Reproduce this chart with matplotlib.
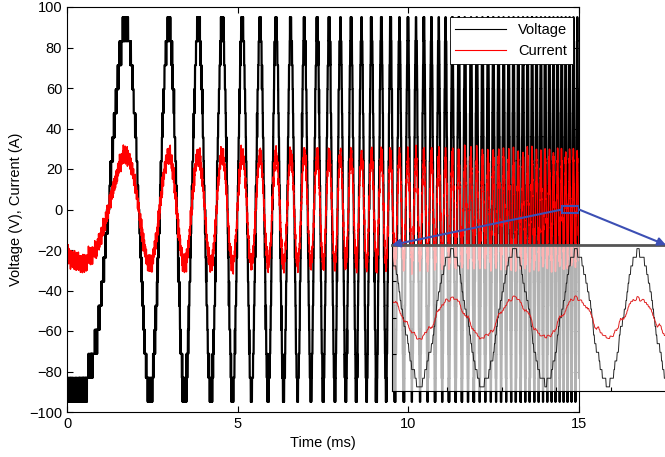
import numpy as np
import matplotlib.pyplot as plt
from matplotlib.patches import Rectangle

# instantaneous frequency (time in ms, freq in kHz)
knot_t = [0, 2.33, 3.40, 4.19, 4.84, 5.89, 6.94, 8.02, 9.07, 10.07, 10.95, 14.75]
knot_f = [0, 0.79, 1.14, 1.43, 1.69, 2.13, 2.58, 3.12, 3.50, 4.15, 4.85, 8.80]

v_peak = 95        # V, top level of the staircase
v_ref = 91         # V, amplitude of the commanded sine
v_steps = 8        # levels per half wave
i_peak = 27        # A
i_start = -21      # A, current at t = 0

# measurement ripple: a few switching harmonics (kHz, fraction of a step)
ripple_f = [37.1, 53.9, 71.3, 97.7, 123.1]
ripple_a = [0.20, 0.17, 0.14, 0.11, 0.09]

zoom_t = [14.5, 15.0]
zoom_v = [-1.5, 1.5]
xticks = [0, 5, 10, 15]
yticks = list(range(-100, 101, 20))
inset_xticks = [14.6, 14.7, 14.8, 14.9]
inset_yticks = [-50, 0, 50]

plt.rcParams['font.family'] = ['Liberation Sans', 'DejaVu Sans']
plt.rcParams['font.size'] = 10.5

dt = 0.001
t = np.arange(0, 15 + dt, dt)
freq = np.interp(t, knot_t, knot_f)
phase = np.cumsum(freq) * dt
ref = -v_ref * np.cos(2 * np.pi * phase)

step = v_peak / v_steps
ripple = np.zeros_like(t)
for k, (f, a) in enumerate(zip(ripple_f, ripple_a)):
    ripple += a * np.sin(2 * np.pi * f * t + 1.7 * k)

volt = np.clip(step * np.round(ref / step + ripple), -v_peak, v_peak)
curr = i_peak * ref / v_ref + 0.25 * (volt - ref) + 6 * ripple \
    + (i_start + i_peak) * np.exp(-t / 0.12)

fig = plt.figure(figsize=(6.65, 4.57), dpi=100)
ax = fig.add_axes([67 / 665, 1 - 412 / 457, 512 / 665, 405 / 457])
ax.plot(t, volt, color='k', lw=1.6, label='Voltage')
ax.plot(t, curr, color='r', lw=1.1, label='Current')
ax.set_xlim(0, 15)
ax.set_ylim(-100, 100)
ax.set_xticks(xticks)
ax.set_yticks(yticks)
ax.tick_params(direction='in', top=True, right=True, length=4)
ax.set_xlabel('Time (ms)')
ax.set_ylabel('Voltage (V), Current (A)')
leg = ax.legend(loc='upper right', bbox_to_anchor=(573 / 665, 1 - 17 / 457),
                bbox_transform=fig.transFigure, borderaxespad=0,
                fancybox=False, edgecolor='k', framealpha=1, handlelength=3.5)
leg.get_frame().set_linewidth(0.6)
for ln in leg.get_lines():
    ln.set_linewidth(0.8)

blue = '#3c4fb4'
ax.add_patch(Rectangle((zoom_t[0], zoom_v[0]), zoom_t[1] - zoom_t[0],
                       zoom_v[1] - zoom_v[0], fill=False, ec=blue, lw=1.5, zorder=5))

# zoomed inset, see-through so the main traces show behind it
axins = fig.add_axes([392 / 665, 1 - 390.5 / 457, 274 / 665, 145.5 / 457])
axins.patch.set_alpha(0.7)
m = t >= zoom_t[0] - 0.01
axins.plot(t[m], volt[m], color='#222222', lw=0.7)
axins.plot(t[m], curr[m], color='#e02020', lw=0.7)
axins.set_xlim(zoom_t)
axins.set_ylim(-100, 100)
axins.set_xticks(inset_xticks)
axins.set_yticks(inset_yticks)
axins.tick_params(direction='in', labelbottom=False, labelleft=False, length=3)
axins.spines['top'].set_color('#555555')
axins.spines['top'].set_linewidth(2)

for corner, start in [((0, 1), zoom_t[0]), ((1, 1), zoom_t[1])]:
    axins.annotate('', xy=corner, xycoords='axes fraction',
                   xytext=(start, 0), textcoords=ax.transData,
                   arrowprops=dict(arrowstyle='-|>', color=blue, lw=1.5,
                                   mutation_scale=12, shrinkA=0, shrinkB=0),
                   annotation_clip=False)

fig.savefig('out.png', dpi=100)
